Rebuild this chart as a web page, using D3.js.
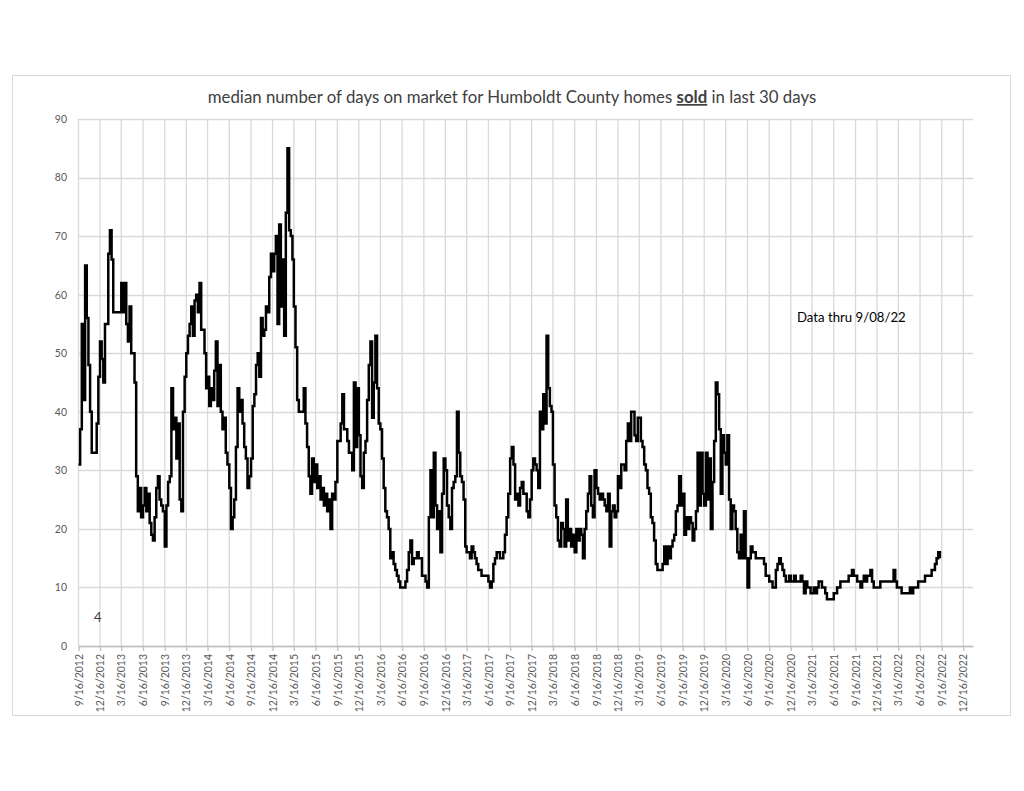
<!DOCTYPE html>
<html>
<head>
<meta charset="utf-8">
<script src="https://cdn.jsdelivr.net/npm/d3@7"></script>
<style>
  html, body { margin: 0; padding: 0; background: #ffffff; }
  svg { display: block; }
</style>
</head>
<body>
<svg id="chart" width="1024" height="791"></svg>
<script>
// ---------------- DATA ----------------
const titleParts = ["median number of days on market for Humboldt County homes ", "sold", " in last 30 days"];
const annotation = "Data thru 9/08/22";
const cornerNote = "4";

// Category (tick) labels of the date axis: every 3 months
const tickLabels = [
  "9/16/2012","12/16/2012","3/16/2013","6/16/2013","9/16/2013","12/16/2013",
  "3/16/2014","6/16/2014","9/16/2014","12/16/2014","3/16/2015","6/16/2015",
  "9/16/2015","12/16/2015","3/16/2016","6/16/2016","9/16/2016","12/16/2016",
  "3/16/2017","6/16/2017","9/16/2017","12/16/2017","3/16/2018","6/16/2018",
  "9/16/2018","12/16/2018","3/16/2019","6/16/2019","9/16/2019","12/16/2019",
  "3/16/2020","6/16/2020","9/16/2020","12/16/2020","3/16/2021","6/16/2021",
  "9/16/2021","12/16/2021","3/16/2022","6/16/2022","9/16/2022","12/16/2022"
];
const yTicks = [0,10,20,30,40,50,60,70,80,90];

// Weekly readings of median days on market; one row per quarter starting at tickLabels[i]
const medianDays = [
  [31,37,55,42,65,56,48,40,33,33,33,38,46],   // 9/16/2012
  [52,49,45,55,55,67,71,66,57,57,57,57,57],   // 12/16/2012
  [62,57,62,55,52,58,50,50,45,29,23,27,22],   // 3/16/2013
  [24,27,23,26,21,19,18,22,27,29,25,24,23],   // 6/16/2013
  [17,24,28,29,44,37,39,32,38,25,23,40,46],   // 9/16/2013
  [50,53,55,58,53,59,60,57,62,54,54,50,44],   // 12/16/2013
  [46,41,44,42,47,52,41,48,40,37,39,33,31],   // 3/16/2014
  [27,20,22,25,34,44,40,42,38,34,32,27,29],   // 6/16/2014
  [32,41,43,48,50,46,56,53,54,58,57,63,67],   // 9/16/2014
  [64,67,70,55,72,58,66,53,74,85,71,70,66],   // 12/16/2014
  [58,51,42,40,40,40,44,38,34,29,26,32,28],   // 3/16/2015
  [31,27,29,25,27,24,26,23,25,20,26,25,28],   // 6/16/2015
  [35,35,38,43,37,37,35,33,33,30,45,34,44],   // 9/16/2015
  [36,29,27,33,35,42,48,52,39,45,53,44,38],   // 12/16/2015
  [37,32,27,23,22,20,15,16,14,13,12,11,10],   // 3/16/2016
  [10,10,11,13,16,18,14,15,15,16,15,15,12],   // 6/16/2016
  [12,11,10,22,30,22,33,24,20,23,16,26,32],   // 9/16/2016
  [30,24,22,20,27,28,29,40,33,29,28,25,17],   // 12/16/2016
  [16,16,15,17,16,15,14,13,13,12,12,12,12],   // 3/16/2017
  [11,10,11,14,15,16,16,15,15,16,19,22,26],   // 6/16/2017
  [32,34,31,25,26,24,27,28,26,26,23,22,25],   // 9/16/2017
  [30,32,31,30,27,40,37,43,38,53,44,41,40],   // 12/16/2017
  [31,24,22,18,17,21,20,17,25,18,20,17,19],   // 3/16/2018
  [16,20,18,20,19,15,20,23,26,29,24,22,30],   // 6/16/2018
  [27,26,25,26,25,24,23,26,17,23,24,22,23],   // 9/16/2018
  [29,27,31,31,30,35,38,35,40,40,36,35,39],   // 12/16/2018
  [39,35,34,31,30,27,26,22,21,18,14,13,13],   // 3/16/2019
  [13,14,17,14,17,15,17,18,19,23,24,29,24],   // 6/16/2019
  [26,19,22,20,22,21,18,20,23,33,24,33,26],   // 9/16/2019
  [24,33,25,32,20,28,35,45,43,37,26,36,33],   // 12/16/2019
  [31,36,25,20,24,23,20,16,15,19,15,23,15],   // 3/16/2020
  [10,15,17,16,16,15,15,15,15,15,14,12,12],   // 6/16/2020
  [11,11,10,10,13,14,15,14,13,12,11,11,12],   // 9/16/2020
  [11,11,12,11,11,11,12,11,9,11,10,10,9],     // 12/16/2020
  [9,10,9,10,11,11,10,10,9,8,8,8,8],          // 3/16/2021
  [9,9,10,10,11,11,11,11,11,12,12,13,12],     // 6/16/2021
  [12,11,11,10,11,12,11,12,12,13,11,10,10],   // 9/16/2021
  [10,10,11,11,11,11,11,11,11,11,13,11,10],   // 12/16/2021
  [10,10,9,9,9,9,9,10,9,10,10,10,11],         // 3/16/2022
  [11,11,11,12,12,12,12,13,13,14,15,16,15]    // 6/16/2022 (through 9/08/22)
];

// ---------------- CHART ----------------
const parse = d3.timeParse("%m/%d/%Y");
const tickDates = tickLabels.map(parse);

const points = [];
medianDays.forEach((row, q) => {
  row.forEach((v, w) => {
    points.push({ date: d3.timeDay.offset(tickDates[q], 7 * w), value: v });
  });
});

const svg = d3.select("#chart");
const font = "Lato, 'Liberation Sans', sans-serif";

const plot = { left: 78.5, right: 973, top: 119, bottom: 646 };

const x = d3.scaleTime()
  .domain([parse("9/16/2012"), parse("1/26/2023")])
  .range([plot.left, plot.right]);
const y = d3.scaleLinear()
  .domain([0, 90])
  .range([plot.bottom, plot.top]);

// outer chart border
svg.append("rect")
  .attr("x", 12.5).attr("y", 75.5)
  .attr("width", 998).attr("height", 640)
  .attr("fill", "#ffffff")
  .attr("stroke", "#d9d9d9")
  .attr("stroke-width", 1);

// horizontal gridlines
svg.append("g")
  .selectAll("line")
  .data(yTicks)
  .join("line")
  .attr("x1", plot.left).attr("x2", plot.right)
  .attr("y1", d => Math.round(y(d)) + 0.5).attr("y2", d => Math.round(y(d)) + 0.5)
  .attr("stroke", "#d9d9d9")
  .attr("stroke-width", 1.3);

// vertical gridlines
svg.append("g")
  .selectAll("line")
  .data(tickDates)
  .join("line")
  .attr("x1", d => x(d)).attr("x2", d => x(d))
  .attr("y1", plot.top).attr("y2", plot.bottom)
  .attr("stroke", "#d9d9d9")
  .attr("stroke-width", 1.3);

// x axis (date axis, labels rotated)
const xAxis = d3.axisBottom(x)
  .tickValues(tickDates)
  .tickFormat((d, i) => tickLabels[i])
  .tickSize(5)
  .tickSizeOuter(0);
const gx = svg.append("g")
  .attr("transform", `translate(0,${plot.bottom})`)
  .call(xAxis);
gx.select(".domain").attr("stroke", "#bfbfbf").attr("stroke-width", 1.3);
gx.selectAll(".tick line").attr("stroke", "#bfbfbf").attr("stroke-width", 1.3);
gx.selectAll(".tick text")
  .attr("fill", "#595959")
  .attr("font-family", font)
  .attr("font-size", "10.5px")
  .attr("text-anchor", "end")
  .attr("transform", "rotate(-90)")
  .attr("x", -8)
  .attr("y", 0)
  .attr("dy", "0.35em");

// y axis labels
const yAxis = d3.axisLeft(y)
  .tickValues(yTicks)
  .tickSize(0)
  .tickPadding(0);
const gy = svg.append("g")
  .attr("transform", `translate(67,0)`)
  .call(yAxis);
gy.select(".domain").remove();
gy.selectAll(".tick text")
  .attr("fill", "#595959")
  .attr("font-family", font)
  .attr("font-size", "10.5px");

// the data line
const line = d3.line()
  .x(d => x(d.date))
  .y(d => y(d.value))
  .curve(d3.curveStepAfter);
svg.append("path")
  .datum(points)
  .attr("fill", "none")
  .attr("stroke", "#000000")
  .attr("stroke-width", 2.5)
  .attr("stroke-linejoin", "miter")
  .attr("d", line);

// title
const title = svg.append("text")
  .attr("x", 512).attr("y", 103)
  .attr("text-anchor", "middle")
  .attr("font-family", font)
  .attr("font-size", "16.8px")
  .attr("fill", "#404040");
title.append("tspan").text(titleParts[0]);
title.append("tspan").text(titleParts[1])
  .attr("font-weight", "bold")
  .style("text-decoration", "underline");
title.append("tspan").text(titleParts[2]);

// annotation
svg.append("text")
  .attr("x", 797).attr("y", 322)
  .attr("font-family", font)
  .attr("font-size", "13.2px")
  .attr("fill", "#000000")
  .text(annotation);

svg.append("text")
  .attr("x", 94).attr("y", 622)
  .attr("font-family", font)
  .attr("font-size", "13px")
  .attr("fill", "#404040")
  .text(cornerNote);
</script>
</body>
</html>
